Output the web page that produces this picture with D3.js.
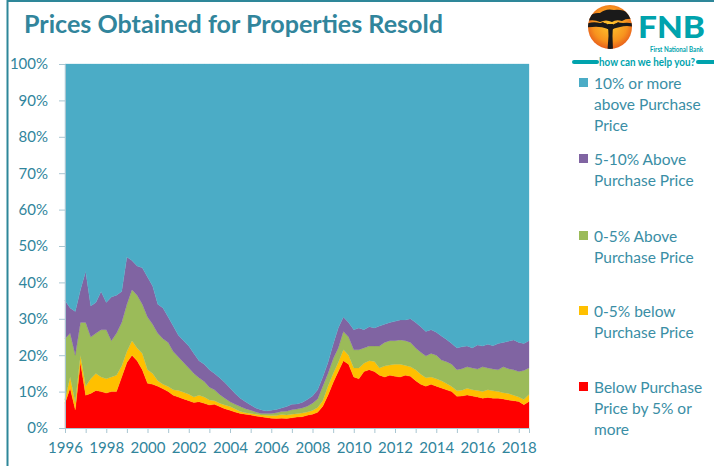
<!DOCTYPE html>
<html><head><meta charset="utf-8">
<script src="https://cdn.jsdelivr.net/npm/d3@7"></script>
<style>body{margin:0;background:#fff}svg{display:block}</style>
</head><body><svg id="c" width="714" height="466"></svg>
<script>
// Quarterly observations
const dates = [
"1996-01","1996-04","1996-07","1996-10","1997-01","1997-04","1997-07","1997-10",
"1998-01","1998-04","1998-07","1998-10","1999-01","1999-04","1999-07","1999-10",
"2000-01","2000-04","2000-07","2000-10","2001-01","2001-04","2001-07","2001-10",
"2002-01","2002-04","2002-07","2002-10","2003-01","2003-04","2003-07","2003-10",
"2004-01","2004-04","2004-07","2004-10","2005-01","2005-04","2005-07","2005-10",
"2006-01","2006-04","2006-07","2006-10","2007-01","2007-04","2007-07","2007-10",
"2008-01","2008-04","2008-07","2008-10","2009-01","2009-04","2009-07","2009-10",
"2010-01","2010-04","2010-07","2010-10","2011-01","2011-04","2011-07","2011-10",
"2012-01","2012-04","2012-07","2012-10","2013-01","2013-04","2013-07","2013-10",
"2014-01","2014-04","2014-07","2014-10","2015-01","2015-04","2015-07","2015-10",
"2016-01","2016-04","2016-07","2016-10","2017-01","2017-04","2017-07","2017-10",
"2018-01","2018-04","2018-07"];

// Below purchase price by 5% or more
const below5 = [
6.8,11,5,18,9,9.5,10.3,10,9.6,10,
10,14,18,20,18.5,16,12.3,12,11.5,10.8,
10,9,8.5,8,7.5,7,7.2,6.8,6.3,6.5,
5.9,5.3,4.9,4.4,4,3.8,3.6,3.3,3.1,2.9,
2.7,2.6,2.7,2.6,2.8,3,3.1,3.5,3.8,4.3,
6,9,12.5,15.5,18.5,17.5,14,13.5,15.5,16,
15.5,14.5,14,14.5,14.2,14,14.5,14.2,13,12,
11.5,12,11.5,11,10.5,10,8.7,8.8,9.1,8.8,
8.5,8.2,8.4,8.2,8.2,8,7.7,7.5,7.3,6.4,
7.3];
// 0-5% below purchase price
const below0to5 = [
0.9,3,2,2,2.5,4,4.7,4,3.9,4,
4.5,3,3,4,3.5,4.5,3.7,3,1.5,1.2,
1.4,1.5,1.8,1.8,1.8,1.5,1.8,1.7,1.4,1,
0.9,1,1,0.8,0.5,0.4,0.4,0.5,0.5,0.6,
0.7,0.8,1,1,1,0.9,1,0.9,1,1.3,
1.5,2.5,2.5,2.5,3,2.5,2.5,3,2.3,2.5,
2.8,2,3,2.8,3.3,3.5,2.7,2.6,3,2.8,
2.3,2,2,2,1.7,1.4,1.5,1.6,1.8,1.7,
1.8,1.8,2.1,2,1.8,1.7,1.8,1.5,1.2,1.4,
1.9];
// 0-5% above purchase price
const above0to5 = [
16.8,12,13,9,17.5,11.5,11,13,13.5,10,
11.5,12,13,14,14.5,13.5,14.5,13.5,13,12.5,
12.1,10.5,9.2,8.2,7.2,6.5,4.8,4.3,3.5,3,
2.4,1.9,1.3,1.3,1.4,1.1,0.9,0.6,0.4,0.5,
0.6,0.8,0.8,1,1.2,1.3,1.4,1.6,2,2.4,
4,3.5,4,4,5,5,5,5,4.2,4,
4.2,6,6.5,6.7,6.5,6.7,6.8,6.7,6,6,
6,6.5,6.5,5.7,6,6.1,5.8,5.9,5.9,6,
5.9,6.8,6,6,6,7.1,6.8,7,7,8,
7.3];
// 5-10% above purchase price
const above5to10 = [
10.5,7,12,9,14,8.5,8.5,10.5,7.5,12,
10.5,8.5,13,8,8,10,11,10.5,8,8.5,
7,7,6,6,6,5.5,4.7,4.7,4.8,4.5,
4.6,4.3,3.8,3,2.3,1.9,1.4,1.1,1,0.7,
0.9,0.9,1,1.3,1.5,1.4,1.5,1.8,2,2.5,
2.5,3,4,5.5,4,4,5.5,6,5,5.3,
5,5.5,5,5,5.3,5.5,5.7,6.5,7,7,
6.7,6.5,6.3,6.6,6.1,5.7,6,6,5.7,5.5,
6.6,5.7,6.5,6.4,7.2,6.7,7.5,8.2,8,7.4,
7.5];
// 10% or more above purchase price
const above10 = [
65,67,68,62,57,66.5,65.5,62.5,65.5,64,
63.5,62.5,53,54,55.5,56,58.5,61,66,67,
69.5,72,74.5,76,77.5,79.5,81.5,82.5,84,85,
86.2,87.5,89,90.5,91.8,92.8,93.7,94.5,95,95.3,
95.1,94.9,94.5,94.1,93.5,93.4,93,92.2,91.2,89.5,
86,82,77,72.5,69.5,71,73,72.5,73,72.2,
72.5,72,71.5,71,70.7,70.3,70.3,70,71,72.2,
73.5,73,73.7,74.7,75.7,76.8,78,77.7,77.5,78,
77.2,77.5,77,77.4,76.8,76.5,76.2,75.8,76.5,76.8,
76];

const seriesKeys = ["below5","below0to5","above0to5","above5to10","above10"];
const seriesColors = ["#FF0000","#FFC000","#9BBB59","#8064A2","#4BACC6"];
const legendLines = {
  above10: ["10% or more","above Purchase","Price"],
  above5to10: ["5-10% Above","Purchase Price"],
  above0to5: ["0-5% Above","Purchase Price"],
  below0to5: ["0-5% below","Purchase Price"],
  below5: ["Below Purchase","Price by 5% or","more"]
};
const legendOrder = ["above10","above5to10","above0to5","below0to5","below5"];
const yTickValues = [0,10,20,30,40,50,60,70,80,90,100];
const titleText = "Prices Obtained for Properties Resold";

const TEAL = "#31859C";
const FONT = "Lato, 'Open Sans', sans-serif";
const svg = d3.select("#c");

// frame
svg.append("line").attr("x1",7.5).attr("x2",7.5).attr("y1",0).attr("y2",466)
  .attr("stroke","#2E8799").attr("stroke-width",2);
svg.append("line").attr("x1",7).attr("x2",714).attr("y1",1).attr("y2",1)
  .attr("stroke","#2E8799").attr("stroke-width",2);

// title
svg.append("text").attr("x",24).attr("y",33).text(titleText)
  .attr("font-family",FONT).attr("font-weight",700).attr("font-size",25)
  .attr("fill",TEAL).attr("textLength",419).attr("lengthAdjust","spacingAndGlyphs");

// scales
const parse = d3.timeParse("%Y-%m");
const rows = dates.map((d,i)=>({date:parse(d), below5:below5[i], below0to5:below0to5[i],
  above0to5:above0to5[i], above5to10:above5to10[i], above10:above10[i]}));
const x = d3.scaleTime().domain([parse("1996-01"), parse("2018-07")]).range([65,529]);
const y = d3.scaleLinear().domain([0,100]).range([428,64]);
const layers = d3.stack().keys(seriesKeys)(rows);
const area = d3.area().x(d=>x(d.data.date)).y0(d=>y(d[0])).y1(d=>y(Math.min(100,d[1])));
const color = d3.scaleOrdinal().domain(seriesKeys).range(seriesColors);

svg.append("g").selectAll("path").data(layers).join("path")
  .attr("d",area).attr("fill",d=>color(d.key)).attr("stroke",d=>color(d.key)).attr("stroke-width",0.3);

// axes
const axisColor = "#A9C6D2";
const yAxis = svg.append("g").attr("transform","translate(65,0)")
  .call(d3.axisLeft(y).tickValues(yTickValues).tickFormat(d=>d+"%").tickSize(6).tickPadding(11));
const xAxis = svg.append("g").attr("transform","translate(0,428)")
  .call(d3.axisBottom(x).ticks(d3.timeYear.every(1)).tickSize(5).tickPadding(9)
    .tickFormat(d=>d.getFullYear()%2===0 ? d.getFullYear() : ""));
[yAxis,xAxis].forEach(g=>{
  g.selectAll(".domain").attr("stroke",axisColor);
  g.selectAll(".tick line").attr("stroke",axisColor);
  g.selectAll("text").attr("fill",TEAL).attr("font-family",FONT).attr("font-size",15);
});

// legend
const legendTops = {above10:83, above5to10:159, above0to5:236, below0to5:311, below5:387};
const lg = svg.append("g");
legendOrder.forEach(k=>{
  const cy = legendTops[k];
  lg.append("rect").attr("x",579).attr("y",cy-5).attr("width",9).attr("height",9).attr("fill",color(k));
  legendLines[k].forEach((t,j)=>{
    lg.append("text").attr("x",594).attr("y",cy+j*21).attr("dy","0.36em").text(t)
      .attr("font-family",FONT).attr("font-size",15.5).attr("fill","#3A8EA5");
  });
});

// FNB logo
const defs = svg.append("defs");
const grad = defs.append("radialGradient").attr("id","sun").attr("cx","50%").attr("cy","45%").attr("r","55%");
grad.append("stop").attr("offset","0%").attr("stop-color","#FDC82F");
grad.append("stop").attr("offset","70%").attr("stop-color","#F7931E");
grad.append("stop").attr("offset","100%").attr("stop-color","#E8601C");
defs.append("clipPath").attr("id","sunclip").append("circle").attr("cx",610).attr("cy",27).attr("r",22);
const logo = svg.append("g");
logo.append("circle").attr("cx",610).attr("cy",27).attr("r",22).attr("fill","url(#sun)");
const tree = logo.append("g").attr("clip-path","url(#sunclip)").attr("fill","#1a1a1a");
tree.append("path").attr("d","M586,19 Q592,12 600,13 Q606,8 614,10 Q622,9 628,13 Q634,15 634,19 Q626,18 622,21 Q616,19 612,22 Q606,19 600,22 Q594,19 586,21 Z");
tree.append("path").attr("d","M586,24 Q593,21 600,23 Q605,22 609,25 L612,25 Q617,22 623,23 Q629,22 634,24 L634,27 Q627,25 620,27 L612,29 L608,29 Q600,26 592,27 Q588,27 586,28 Z");
tree.append("path").attr("d","M608,24 L613,24 L612.5,36 L613,50 L607.5,50 L608.5,36 Z");
tree.append("path").attr("d","M609,30 L601,23 L603,22 L610,28 Z M612,30 L620,23 L618,22 L611,28 Z");
logo.append("text").attr("x",638).attr("y",38).text("FNB")
  .attr("font-family",FONT).attr("font-weight",900).attr("font-size",30).attr("fill","#00A3AD")
  .attr("textLength",67).attr("lengthAdjust","spacingAndGlyphs");
logo.append("text").attr("x",650).attr("y",51.5).text("First National Bank")
  .attr("font-family",FONT).attr("font-weight",700).attr("font-size",6.5).attr("fill","#00A3AD")
  .attr("textLength",53).attr("lengthAdjust","spacingAndGlyphs");
logo.append("line").attr("x1",574).attr("x2",597).attr("y1",62).attr("y2",62)
  .attr("stroke","#00A3AD").attr("stroke-width",4).attr("stroke-linecap","round");
logo.append("line").attr("x1",698).attr("x2",714).attr("y1",62).attr("y2",62)
  .attr("stroke","#00A3AD").attr("stroke-width",4).attr("stroke-linecap","round");
logo.append("text").attr("x",599).attr("y",65.5).text("how can we help you?")
  .attr("font-family",FONT).attr("font-weight",700).attr("font-size",10.5).attr("fill","#00A3AD")
  .attr("textLength",96).attr("lengthAdjust","spacingAndGlyphs");
</script></body></html>
